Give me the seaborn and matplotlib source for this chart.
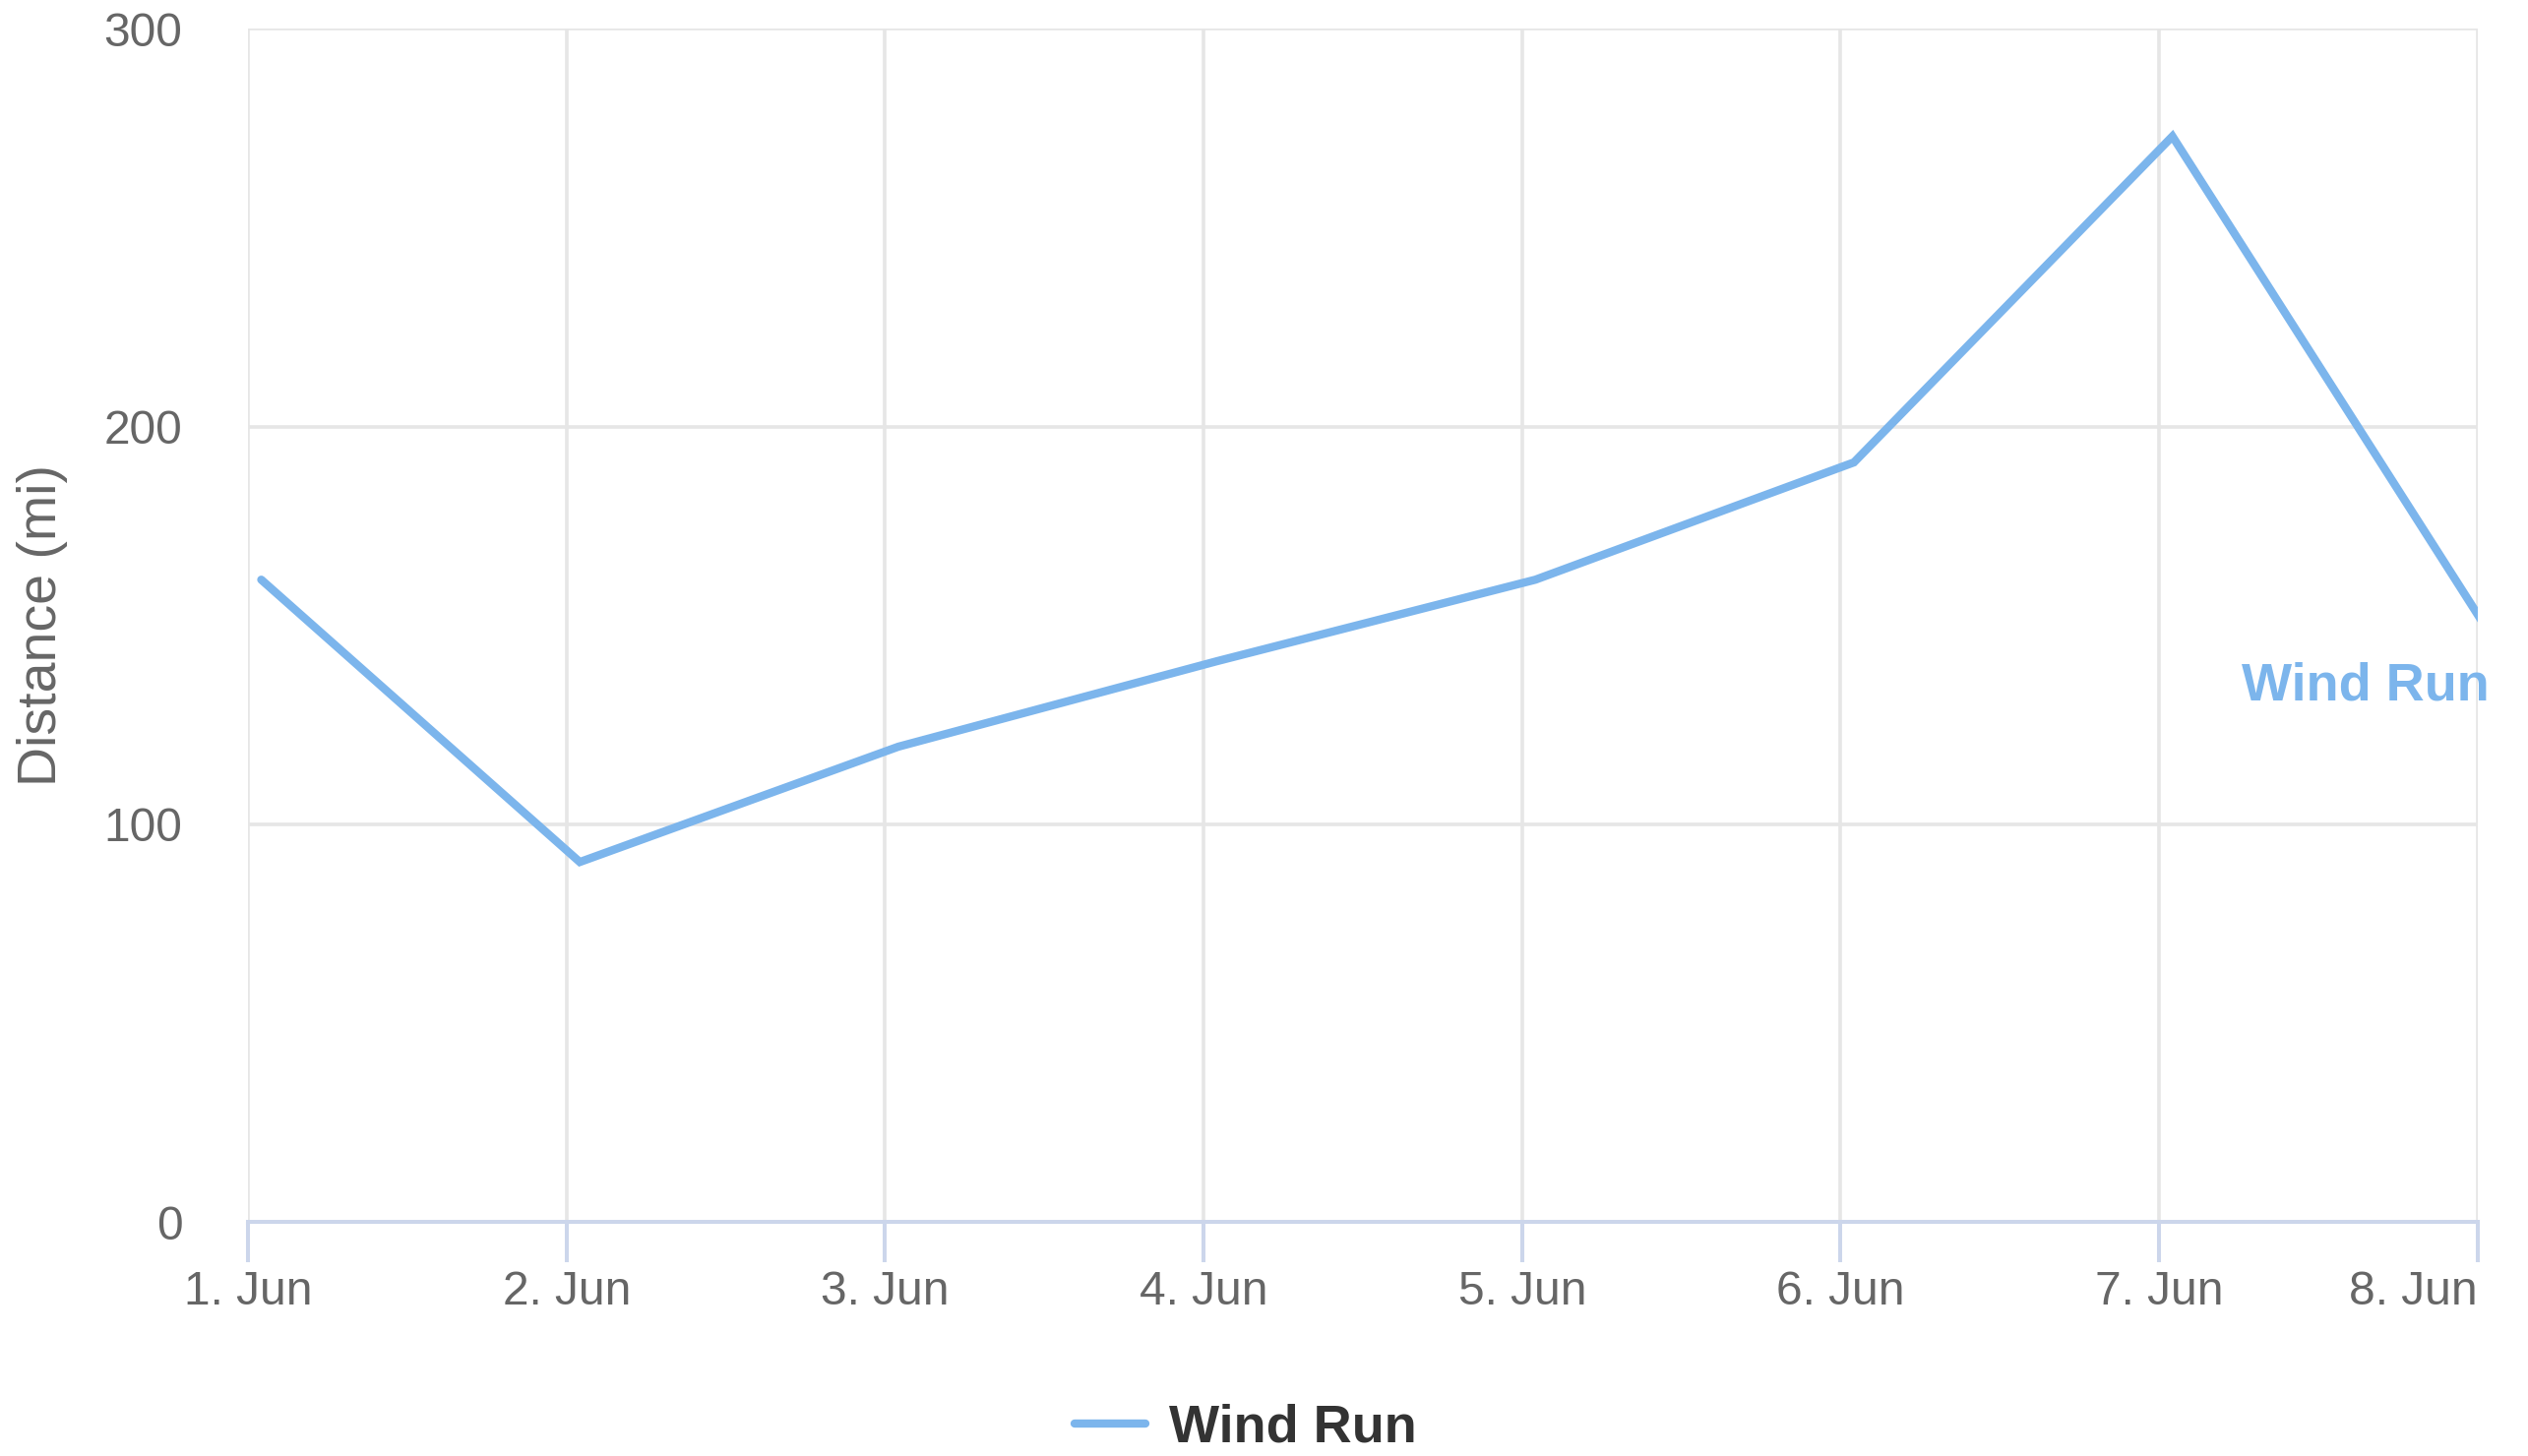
import matplotlib
matplotlib.use("Agg")
import matplotlib.pyplot as plt
import matplotlib.transforms as mtransforms
import pandas as pd
import seaborn as sns

# Daily wind run readings (time stamp of each daily reading, miles)
reading_times = [
    "2023-06-01 01:00", "2023-06-02 01:00", "2023-06-03 01:00", "2023-06-04 01:00",
    "2023-06-05 01:00", "2023-06-06 01:00", "2023-06-07 01:00", "2023-06-08 01:00",
]
wind_run = [161.5, 90.5, 119.5, 141.0, 161.5, 191.0, 273.0, 147.5]

tick_days = [
    "2023-06-01", "2023-06-02", "2023-06-03", "2023-06-04",
    "2023-06-05", "2023-06-06", "2023-06-07", "2023-06-08",
]
tick_labels = ["1. Jun", "2. Jun", "3. Jun", "4. Jun", "5. Jun", "6. Jun", "7. Jun", "8. Jun"]
y_ticks = [0, 100, 200, 300]

series_name = "Wind Run"
line_color = "#7cb5ec"
label_color = "#666666"
grid_color = "#e6e6e6"
axis_color = "#ccd6eb"

df = pd.DataFrame({"time": pd.to_datetime(reading_times), series_name: wind_run})

sns.set_theme(style="white")
plt.rcParams["font.family"] = ["Liberation Sans", "DejaVu Sans"]

fig = plt.figure(figsize=(25.69, 14.80), dpi=100)
ax = fig.add_axes([0.0981, 0.1608, 0.8820, 0.8193])

sns.lineplot(data=df, x="time", y=series_name, ax=ax, color=line_color,
             linewidth=6.0, label=series_name, solid_joinstyle="miter")

days = pd.to_datetime(tick_days)
ax.set_xlim(days[0], days[-1])
ax.set_ylim(0, 300)
ax.set_xticks(days)
ax.set_xticklabels(tick_labels)
ax.set_yticks(y_ticks)
ax.set_yticklabels([str(v) for v in y_ticks])

# grid and axis styling
ax.grid(True, color=grid_color, linewidth=2.6)
ax.set_axisbelow(True)
for side in ("left", "right", "top"):
    ax.spines[side].set_visible(False)
ax.spines["bottom"].set_color(axis_color)
ax.spines["bottom"].set_linewidth(2.9)
ax.spines["bottom"].set_zorder(1.5)

ax.tick_params(axis="x", direction="out", length=29.5, width=2.9, color=axis_color,
               labelsize=34.5, labelcolor=label_color, pad=6, bottom=True)
ax.tick_params(axis="y", length=0, labelsize=34.5, labelcolor=label_color, pad=48)
ax.get_xticklabels()[-1].set_ha("right")

ax.set_xlabel("")
ax.set_ylabel("Distance (mi)", fontsize=40, color=label_color, labelpad=26)

# series name next to the end of the line
ax.text(1.0053, 131.3, series_name,
        transform=mtransforms.blended_transform_factory(ax.transAxes, ax.transData),
        ha="right", va="baseline", fontsize=39, fontweight="bold",
        color=line_color, clip_on=False, zorder=5)

leg = ax.legend(loc="center", bbox_to_anchor=(0.4928, 0.019),
                bbox_transform=fig.transFigure, frameon=False,
                fontsize=39, handlelength=1.33, handletextpad=0.44)
for txt in leg.get_texts():
    txt.set_fontweight("bold")
    txt.set_color("#333333")
for h in leg.get_lines():
    h.set_linewidth(6.0)

fig.savefig("out.png", dpi=100, facecolor="white")
